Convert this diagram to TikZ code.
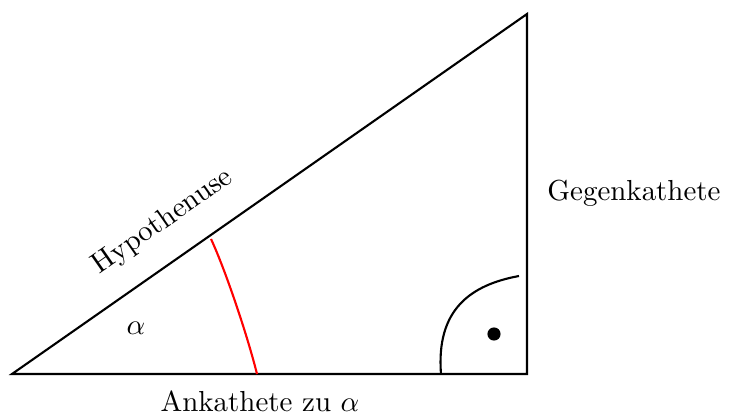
\documentclass[tikz,border=0pt]{standalone}
\begin{document}
\begin{tikzpicture}[x=0.38pt,y=-0.38pt,
  side/.style={line width=0.8pt,line join=miter},
  lbl/.style={inner sep=0pt,scale=1.1}]
\useasboundingbox (0,0) rectangle (733,415);
\coordinate (A) at (12,374);
\coordinate (B) at (527,374);
\coordinate (C) at (527,14);
\draw[side] (A) -- (B) -- (C) -- cycle;
\coordinate (r1) at (211,239);
\coordinate (r2) at (257,374);
\draw[red,line width=0.8pt] (r1) .. controls (225,269) and (247,334) .. (r2);
\coordinate (q1) at (441,374);
\coordinate (q2) at (519,276);
\draw[line width=0.8pt] (q1) .. controls (436,310) and (470,285) .. (q2);
\fill (494,334) circle[radius=2.5pt];
\node[lbl,rotate=34.96] (hyp) at (163,222) {Hypothenuse};
\node[lbl] (alpha) at (136,328) {$\alpha$};
\node[lbl] (ank) at (260,401) {Ankathete zu $\alpha$};
\node[lbl] (geg) at (634,193) {Gegenkathete};
\end{tikzpicture}
\end{document}
